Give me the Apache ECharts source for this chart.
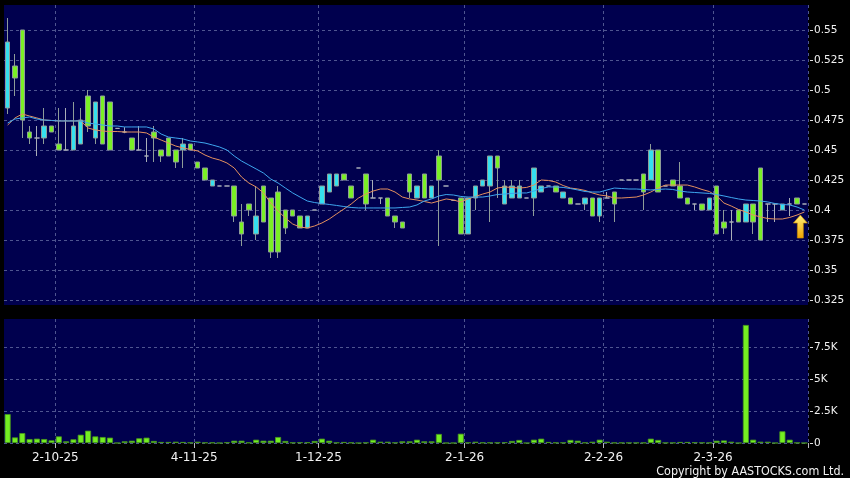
<!DOCTYPE html>
<html><head><meta charset="utf-8">
<script src="https://cdn.jsdelivr.net/npm/echarts@6/dist/echarts.min.js"></script>
<style>html,body{margin:0;padding:0;background:#000;}#c{width:850px;height:478px;}</style>
</head><body><div id="c"></div>
<script>
const priceTicks = [0.325, 0.35, 0.375, 0.4, 0.425, 0.45, 0.475, 0.5, 0.525, 0.55];
const volumeTicks = [0, 2.5, 5, 7.5];
const tickLabels = ['2-10-25', '4-11-25', '1-12-25', '2-1-26', '2-2-26', '2-3-26'];
const tickIndex = [7, 26, 43, 63, 82, 97];

const opens = [0.485,0.52,0.55,0.465,0.46,0.46,0.47,0.455,0.45,0.45,
 0.455,0.495,0.46,0.495,0.49,0.468,0.465,0.46,0.45,0.445,
 0.465,0.45,0.46,0.45,0.45,0.455,0.44,0.435,0.42,0.42,
 0.42,0.42,0.39,0.405,0.38,0.42,0.41,0.415,0.40,0.40,
 0.395,0.385,0.40,0.405,0.415,0.42,0.43,0.42,0.435,0.43,
 0.41,0.41,0.41,0.395,0.39,0.43,0.41,0.43,0.41,0.445,
 0.42,0.408,0.41,0.38,0.41,0.42,0.42,0.445,0.405,0.41,
 0.41,0.41,0.41,0.415,0.42,0.42,0.41,0.41,0.405,0.405,
 0.41,0.395,0.41,0.415,0.425,0.425,0.425,0.43,0.425,0.45,
 0.42,0.425,0.42,0.41,0.405,0.405,0.40,0.42,0.39,0.39,
 0.40,0.39,0.405,0.435,0.405,0.405,0.40,0.405,0.41,0.405];
const closes = [0.54,0.51,0.475,0.46,0.46,0.47,0.465,0.45,0.45,0.47,
 0.475,0.47,0.49,0.455,0.45,0.468,0.465,0.45,0.45,0.445,
 0.46,0.445,0.445,0.44,0.455,0.45,0.435,0.425,0.425,0.42,
 0.42,0.395,0.38,0.40,0.395,0.39,0.365,0.365,0.385,0.395,
 0.385,0.395,0.40,0.42,0.43,0.43,0.425,0.41,0.435,0.405,
 0.41,0.41,0.395,0.39,0.385,0.415,0.42,0.41,0.42,0.425,
 0.42,0.408,0.38,0.41,0.42,0.425,0.445,0.435,0.42,0.42,
 0.42,0.41,0.435,0.42,0.42,0.415,0.415,0.405,0.405,0.41,
 0.395,0.41,0.41,0.405,0.425,0.425,0.425,0.415,0.45,0.415,
 0.42,0.42,0.41,0.405,0.405,0.40,0.41,0.38,0.385,0.39,
 0.39,0.405,0.39,0.375,0.405,0.405,0.405,0.405,0.405,0.405];
const highs = [0.56,0.53,0.55,0.47,0.47,0.485,0.47,0.485,0.485,0.49,
 0.485,0.50,0.49,0.495,0.49,0.468,0.469,0.46,0.47,0.46,
 0.47,0.45,0.46,0.45,0.46,0.455,0.44,0.435,0.425,0.42,
 0.42,0.42,0.405,0.405,0.42,0.42,0.41,0.42,0.40,0.40,
 0.395,0.395,0.40,0.42,0.43,0.43,0.43,0.42,0.435,0.43,
 0.425,0.41,0.41,0.395,0.39,0.43,0.42,0.43,0.42,0.45,
 0.42,0.408,0.41,0.41,0.42,0.425,0.445,0.445,0.425,0.425,
 0.425,0.41,0.435,0.42,0.42,0.42,0.415,0.41,0.405,0.41,
 0.41,0.41,0.415,0.415,0.425,0.425,0.425,0.43,0.455,0.45,
 0.42,0.425,0.44,0.41,0.405,0.405,0.41,0.42,0.40,0.40,
 0.40,0.405,0.405,0.435,0.405,0.405,0.405,0.41,0.41,0.405];
const lows = [0.48,0.495,0.46,0.455,0.445,0.455,0.465,0.45,0.45,0.45,
 0.455,0.465,0.455,0.455,0.45,0.468,0.464,0.45,0.45,0.44,
 0.44,0.44,0.445,0.435,0.435,0.45,0.435,0.425,0.42,0.42,
 0.42,0.39,0.37,0.395,0.375,0.39,0.36,0.36,0.38,0.395,
 0.385,0.385,0.40,0.405,0.415,0.42,0.425,0.41,0.435,0.40,
 0.41,0.405,0.395,0.385,0.385,0.41,0.41,0.41,0.41,0.37,
 0.42,0.408,0.38,0.38,0.40,0.42,0.39,0.41,0.405,0.41,
 0.41,0.41,0.395,0.415,0.42,0.415,0.41,0.405,0.405,0.40,
 0.395,0.39,0.41,0.39,0.425,0.425,0.425,0.40,0.425,0.415,
 0.42,0.42,0.41,0.405,0.40,0.40,0.40,0.38,0.38,0.375,
 0.39,0.39,0.38,0.375,0.39,0.39,0.40,0.395,0.405,0.405];
const ma10 = [0.4708,0.4767,0.48,0.4783,0.4767,0.475,0.4746,0.4742,0.4742,0.4742,
 0.4742,0.4683,0.4667,0.4658,0.4654,0.4654,0.465,0.465,0.465,0.4642,
 0.4608,0.4583,0.4558,0.4533,0.4517,0.4504,0.4492,0.4458,0.4433,0.4417,
 0.4392,0.435,0.4275,0.4225,0.4192,0.4142,0.4058,0.3992,0.3933,0.3883,
 0.3858,0.385,0.3867,0.3892,0.3925,0.3967,0.4008,0.405,0.41,0.4133,
 0.4158,0.4175,0.4175,0.415,0.4108,0.4092,0.4083,0.4071,0.4058,0.4075,
 0.4092,0.4083,0.4067,0.4092,0.4113,0.4133,0.415,0.4183,0.4192,0.4188,
 0.4183,0.4188,0.4208,0.425,0.4246,0.4233,0.4204,0.4183,0.4175,0.4163,
 0.4142,0.4125,0.4117,0.41,0.41,0.4104,0.4108,0.4125,0.415,0.4183,
 0.4208,0.4208,0.4208,0.4208,0.4192,0.4171,0.4154,0.4117,0.4058,0.4033,
 0.4004,0.3983,0.3958,0.3942,0.3929,0.3925,0.3925,0.3938,0.3958,0.3983];
const ma20 = [0.4725,0.4758,0.4767,0.4775,0.4758,0.475,0.4746,0.4742,0.4742,0.4742,
 0.4742,0.4725,0.4717,0.4708,0.47,0.47,0.4692,0.4692,0.4692,0.4692,
 0.4675,0.4633,0.4608,0.46,0.4592,0.4575,0.4567,0.4558,0.4542,0.4525,
 0.45,0.445,0.4408,0.4375,0.4342,0.4308,0.4258,0.4225,0.4183,0.4142,
 0.4108,0.4075,0.4062,0.4054,0.4046,0.4038,0.4029,0.4021,0.4017,0.4017,
 0.4017,0.4017,0.4017,0.4017,0.4021,0.4025,0.4042,0.4075,0.4092,0.4117,
 0.4129,0.4125,0.4113,0.4108,0.4108,0.4108,0.4117,0.4129,0.4133,0.4138,
 0.4142,0.4142,0.4158,0.4179,0.4192,0.4192,0.4188,0.4179,0.4167,0.4154,
 0.415,0.415,0.4167,0.4183,0.4179,0.4175,0.4175,0.4171,0.4167,0.4171,
 0.4175,0.4171,0.4158,0.415,0.4146,0.4142,0.4138,0.4129,0.4117,0.4104,
 0.4092,0.4083,0.4079,0.4075,0.4067,0.4054,0.4046,0.4042,0.4025,0.40];
const volumesK = [2.27,0.44,0.78,0.31,0.34,0.31,0.21,0.52,0.13,0.29,
 0.65,0.97,0.52,0.47,0.42,0,0.13,0.18,0.37,0.42,
 0.16,0.08,0.08,0.1,0.08,0.03,0.1,0.03,0.03,0,
 0.05,0.18,0.18,0.03,0.26,0.18,0.18,0.47,0.16,0.03,
 0.05,0.05,0.16,0.34,0.18,0.03,0.08,0.03,0,0.03,
 0.26,0.1,0.1,0.03,0.13,0.13,0.26,0.13,0.13,0.71,
 0,0,0.73,0.03,0.1,0.03,0.03,0.03,0.05,0.16,
 0.24,0,0.26,0.34,0.08,0.03,0.03,0.24,0.18,0.03,
 0.1,0.26,0.1,0.02,0.02,0.02,0.02,0.02,0.34,0.24,
 0.02,0.02,0.08,0.08,0.05,0.03,0.02,0.18,0.2,0.1,
 0,9.28,0.26,0.1,0.1,0,0.92,0.26,0.02,0];
const arrowValue = 0.3862;

const categories = opens.map(function (_, i) {
  const k = tickIndex.indexOf(i);
  return k >= 0 ? tickLabels[k] : 'd' + i;
});
const isTick = function (i) { return tickIndex.indexOf(i) >= 0; };

const UP = '#35e0ef', DOWN = '#7af025', DOJI = '#a9aeb8', EDGE = '#8e9c98';
const GRID = '#4f5590', NAVY = '#00004e';

const candleData = opens.map(function (o, i) {
  const item = { value: [o, closes[i], lows[i], highs[i]] };
  if (o === closes[i]) {
    item.itemStyle = { color: DOJI, color0: DOJI, borderColor: DOJI, borderColor0: DOJI, borderColorDoji: DOJI };
  }
  return item;
});

const chart = echarts.init(document.getElementById('c'), null, { renderer: 'canvas' });
const dash = { color: GRID, width: 1, type: [3, 3] };
chart.setOption({
  animation: false,
  backgroundColor: '#000',
  grid: [
    { left: 4, top: 5, width: 804, height: 300, show: true, backgroundColor: NAVY, borderWidth: 0, containLabel: false, outerBoundsMode: 'none' },
    { left: 4, top: 319, width: 804, height: 124, show: true, backgroundColor: NAVY, borderWidth: 0, containLabel: false, outerBoundsMode: 'none' }
  ],
  xAxis: [
    { type: 'category', gridIndex: 0, data: categories, boundaryGap: true,
      axisLine: { show: false }, axisTick: { show: false }, axisLabel: { show: false },
      splitLine: { show: true, interval: function (i) { return isTick(i); }, lineStyle: dash } },
    { type: 'category', gridIndex: 1, data: categories, boundaryGap: true,
      axisLine: { show: false },
      axisTick: { show: true, interval: function (i) { return isTick(i); }, length: 5, lineStyle: { color: '#b8b8c0', width: 1 } },
      axisLabel: { show: true, interval: function (i) { return isTick(i); }, color: '#f2f2f2',
        fontFamily: 'DejaVu Sans', fontSize: 12, margin: 9, padding: [0, 7, 0, 0] },
      splitLine: { show: true, interval: function (i) { return isTick(i); }, lineStyle: dash } }
  ],
  yAxis: [
    { type: 'value', gridIndex: 0, position: 'right', offset: 2,
      min: 0.325 - 5 / 1200, max: 0.55 + 25 / 1200,
      axisLine: { show: false },
      axisTick: { show: true, customValues: priceTicks, length: 3, lineStyle: { color: '#e0e0e0' } },
      axisLabel: { customValues: priceTicks, color: '#f2f2f2', fontFamily: 'DejaVu Sans', fontSize: 10.5, margin: 4,
        formatter: function (v) { return String(Math.round(v * 1000) / 1000); } },
      splitLine: { show: true, lineStyle: dash } },
    { type: 'value', gridIndex: 1, position: 'right', offset: 2,
      min: 0, max: 9.75,
      axisLine: { show: false },
      axisTick: { show: true, customValues: volumeTicks, length: 3, lineStyle: { color: '#e0e0e0' } },
      axisLabel: { customValues: volumeTicks, color: '#f2f2f2', fontFamily: 'DejaVu Sans', fontSize: 10.5, margin: 4,
        formatter: function (v) { return v === 0 ? '0' : v + 'K'; } },
      splitLine: { show: true, lineStyle: dash } }
  ],
  series: [
    { type: 'candlestick', xAxisIndex: 0, yAxisIndex: 0, data: candleData, barWidth: 5,
      itemStyle: { color: UP, color0: DOWN, borderColor: EDGE, borderColor0: EDGE, borderColorDoji: DOJI, borderWidth: 1 },
      markPoint: {
        silent: true, animation: false,
        label: { show: false },
        data: [{
          coord: [categories[categories.length - 1], arrowValue],
          symbol: 'path://M7,0 L14,8 L10,8 L10,23 L4,23 L4,8 L0,8 Z',
          symbolSize: [14, 23], symbolOffset: [-4, 0],
          itemStyle: { color: new echarts.graphic.LinearGradient(0, 0, 0, 1, [{ offset: 0, color: '#fff27a' }, { offset: 1, color: '#f0a200' }]),
            borderColor: '#c98a00', borderWidth: 0.6 }
        }]
      }
    },
    { type: 'line', xAxisIndex: 0, yAxisIndex: 0, data: ma10, showSymbol: false, symbol: 'none',
      lineStyle: { color: '#e4905e', width: 1 }, z: 3 },
    { type: 'line', xAxisIndex: 0, yAxisIndex: 0, data: ma20, showSymbol: false, symbol: 'none',
      lineStyle: { color: '#3ea6ee', width: 1 }, z: 3 },
    { type: 'bar', xAxisIndex: 1, yAxisIndex: 1, data: volumesK, barWidth: 6,
      itemStyle: { color: '#74ee22', borderColor: '#4a9a1c', borderWidth: 0.8 } }
  ],
  graphic: [
    { type: 'text', right: 6, bottom: 0, silent: true,
      style: { text: 'Copyright by AASTOCKS.com Ltd.', fill: '#f2f2f2', font: '12.4px "Liberation Sans Narrow", "DejaVu Sans Condensed", "Liberation Sans"' } }
  ]
});
</script></body></html>
